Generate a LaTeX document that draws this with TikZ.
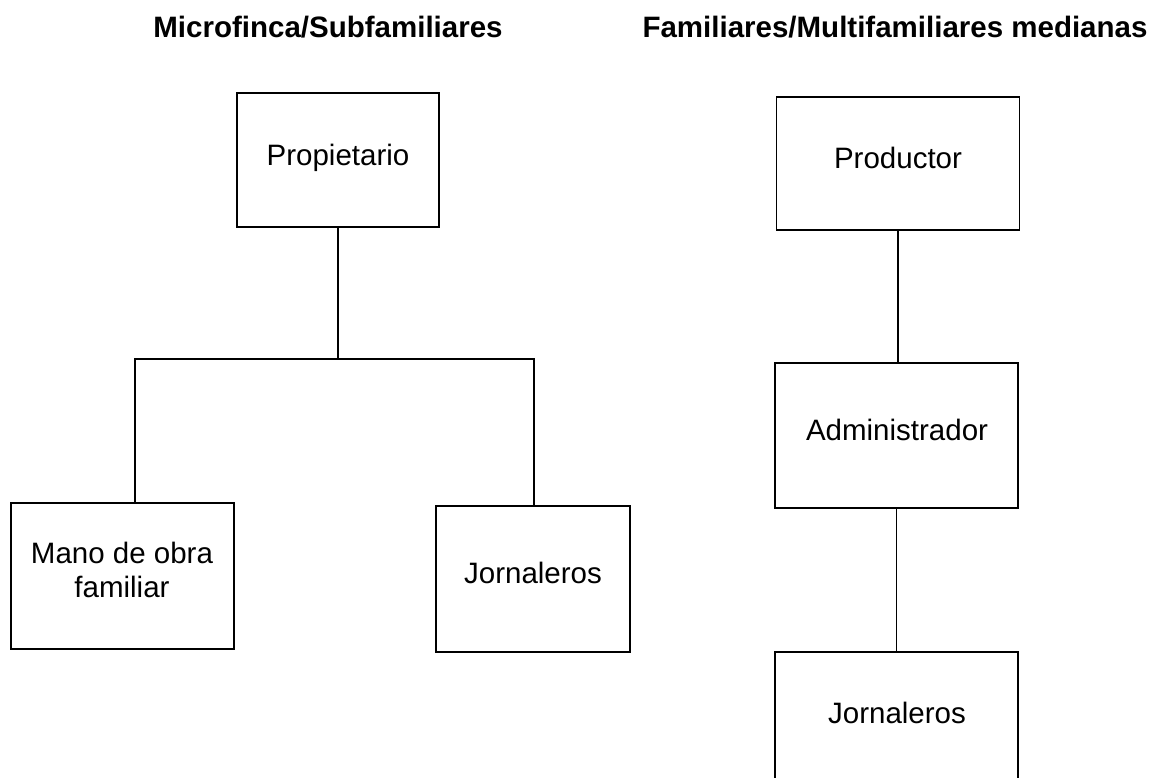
\documentclass[tikz,border=0pt]{standalone}
\usepackage{fontspec}
\setmainfont{Liberation Sans}
\begin{document}
\begin{tikzpicture}[x=1pt,y=-1pt,
  box/.style={draw=black,line width=1.5pt,rectangle,inner sep=0pt},
  lbl/.style={anchor=base,inner sep=0pt,font=\fontsize{29.5}{34}\selectfont},
  ttl/.style={anchor=base,inner sep=0pt,font=\fontsize{29.5}{34}\selectfont\bfseries},
  conn/.style={draw=black,line width=1.5pt}]
\clip (0,0) rectangle (1158,777);
\fill[white] (0,0) rectangle (1158,777);
% titles
\node[ttl] (t1) at (328,37) {Microfinca/Subfamiliares};
\node[ttl] (t2) at (895,37) {Familiares/Multifamiliares medianas};
% left chart
\node[box,minimum width=202pt,minimum height=134pt] (prop) at (338,160) {};
\node[lbl] (propT) at (338,165) {Propietario};
\node[box,minimum width=223pt,minimum height=146pt] (mano) at (122.5,576) {};
\node[lbl,align=center] (manoT) at (122,597) {Mano de obra\\familiar};
\node[box,minimum width=194pt,minimum height=146pt] (jorL) at (533,579) {};
\node[lbl] (jorLT) at (533,583) {Jornaleros};
\coordinate (hl) at (135,359);
\coordinate (hr) at (534,359);
\coordinate (hm) at (prop.south |- hl);
\draw[conn] (prop.south) -- (hm);
\draw[conn] (mano.north -| hl) -- (hl) -- (hr) -- (jorL.north -| hr);
% right chart
\node[box,minimum width=243pt,minimum height=133pt] (prod) at (898,163.5) {};
\node[lbl] (prodT) at (898,168) {Productor};
\node[box,minimum width=243pt,minimum height=145pt] (adm) at (896.5,435.5) {};
\node[lbl] (admT) at (897,440) {Administrador};
\node[box,minimum width=243pt,minimum height=160pt] (jorR) at (896.5,732) {};
\node[lbl] (jorRT) at (897,723) {Jornaleros};
\draw[conn] (prod.south) -- (prod.south |- adm.north);
\draw[conn] (adm.south) -- (adm.south |- jorR.north);
\end{tikzpicture}
\end{document}
